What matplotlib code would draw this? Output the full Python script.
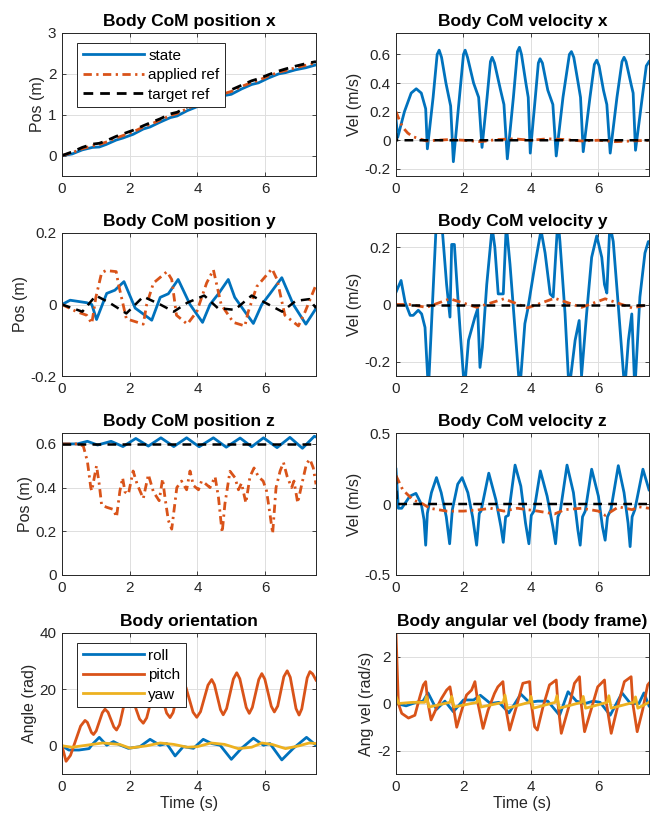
import matplotlib.pyplot as plt

plt.rcParams['font.family'] = ['Liberation Sans', 'DejaVu Sans']

BLUE = '#0072BD'
ORANGE = '#D95319'
YELLOW = '#EDB120'

# --- Body CoM position x ---
t_px = [0, 0.3, 0.6, 0.9, 1.1, 1.3, 1.6, 1.8, 2.1, 2.4, 2.6, 2.9, 3.2, 3.4, 3.7, 4.0,
        4.2, 4.5, 4.8, 5.0, 5.3, 5.6, 5.8, 6.1, 6.4, 6.6, 6.9, 7.2, 7.5]
px_state = [0, 0.04, 0.14, 0.2, 0.21, 0.27, 0.38, 0.43, 0.52, 0.65, 0.7, 0.82, 0.93, 0.97,
            1.1, 1.2, 1.25, 1.38, 1.47, 1.5, 1.63, 1.74, 1.78, 1.9, 2.0, 2.03, 2.1, 2.15, 2.22]
px_applied = [0, 0.07, 0.17, 0.24, 0.27, 0.33, 0.43, 0.49, 0.58, 0.7, 0.76, 0.87, 0.98, 1.03,
              1.15, 1.26, 1.32, 1.44, 1.52, 1.57, 1.69, 1.79, 1.84, 1.95, 2.04, 2.08, 2.15, 2.21, 2.27]
px_target = [0, 0.09, 0.2, 0.28, 0.3, 0.36, 0.47, 0.53, 0.62, 0.73, 0.8, 0.9, 1.02, 1.06,
             1.19, 1.3, 1.36, 1.47, 1.56, 1.61, 1.72, 1.83, 1.88, 1.98, 2.07, 2.12, 2.19, 2.25, 2.3]

# --- Body CoM velocity x ---
t_vx = [0, 0.05, 0.25, 0.45, 0.6, 0.75, 0.88, 0.93,
        1.1, 1.22, 1.28, 1.35, 1.48, 1.62, 1.7,
        1.88, 2.0, 2.05, 2.12, 2.3, 2.45, 2.55,
        2.7, 2.8, 2.85, 2.92, 3.1, 3.2, 3.3,
        3.48, 3.6, 3.66, 3.72, 3.85, 3.92, 3.98,
        4.13, 4.22, 4.27, 4.34, 4.5, 4.65, 4.75,
        4.95, 5.14, 5.2, 5.27, 5.4, 5.47, 5.55,
        5.75, 5.88, 5.95, 6.02, 6.15, 6.25, 6.35,
        6.55, 6.7, 6.76, 6.82, 6.98, 7.03, 7.1,
        7.3, 7.42, 7.5]
vx_state = [0.15, 0.02, 0.2, 0.33, 0.36, 0.33, 0.22, -0.06,
            0.3, 0.6, 0.63, 0.58, 0.4, 0.24, -0.15,
            0.3, 0.6, 0.63, 0.58, 0.4, 0.3, -0.05,
            0.3, 0.55, 0.58, 0.54, 0.35, 0.25, -0.13,
            0.3, 0.62, 0.65, 0.6, 0.4, 0.3, -0.09,
            0.3, 0.54, 0.57, 0.54, 0.35, 0.25, -0.11,
            0.3, 0.6, 0.62, 0.58, 0.4, 0.3, -0.08,
            0.3, 0.53, 0.56, 0.52, 0.35, 0.25, -0.09,
            0.3, 0.55, 0.58, 0.55, 0.38, 0.33, -0.07,
            0.3, 0.52, 0.55]
t_vx_ref = [0, 0.1, 0.2, 0.35, 0.5, 0.7, 0.9, 1.2, 1.6, 2.0, 2.5, 3.0, 3.5, 4.0, 4.5, 5.0,
            5.5, 6.0, 6.5, 7.0, 7.5]
vx_applied = [0.2, 0.14, 0.09, 0.05, 0.025, 0.01, -0.005, 0.0, 0.005, 0.0, -0.01, 0.005,
              0.01, 0.0, 0.01, 0.005, -0.005, 0.0, -0.01, -0.005, 0.0]
t_vx_target = [0, 0.02, 7.5]
vx_target = [0.05, 0, 0]

# --- Body CoM position y ---
t_py = [0, 0.24, 0.73, 0.88, 1.02, 1.32, 1.56, 1.83, 2.16, 2.65, 2.9, 3.14, 3.43, 3.78,
        4.15, 4.37, 4.62, 4.91, 5.1, 5.4, 5.65, 5.9, 6.14, 6.49, 6.83, 7.2, 7.5]
py_state = [0, 0.012, 0.005, 0.0, -0.042, 0.031, 0.04, 0.064, -0.01, -0.044, 0.02, 0.03,
            0.07, 0.0, -0.05, 0.0, 0.03, 0.07, 0.02, -0.02, -0.053, 0.0, 0.03, 0.075, 0.0,
            -0.055, -0.011]
t_py_app = [0, 0.43, 0.73, 0.88, 1.0, 1.17, 1.3, 1.6, 1.66, 1.9, 2.4, 2.5, 2.7, 3.1, 3.24,
            3.38, 3.7, 3.98, 4.27, 4.47, 4.7, 5.06, 5.4, 5.5, 5.75, 6.2, 6.35, 6.58, 6.98,
            7.18, 7.5]
py_applied = [0, -0.02, -0.03, -0.053, 0.02, 0.089, 0.095, 0.092, 0.06, -0.04, -0.055, 0.0,
              0.06, 0.092, 0.07, -0.03, -0.055, -0.02, 0.06, 0.097, 0.0, -0.05, -0.06, -0.02,
              0.05, 0.1, 0.07, -0.03, -0.06, -0.02, 0.055]
t_py_tgt = [0, 0.3, 0.6, 1.0, 1.4, 1.9, 2.4, 2.9, 3.3, 3.7, 4.2, 4.6, 5.1, 5.6, 6.1, 6.5,
            6.9, 7.3, 7.5]
py_target = [0, -0.01, -0.02, 0.025, 0.005, -0.025, 0.022, 0.0, -0.02, 0.005, 0.025, -0.01,
             -0.015, 0.025, 0.0, -0.02, 0.01, 0.015, -0.01]

# --- Body CoM velocity y ---
t_vy = [0, 0.15, 0.27, 0.42, 0.51, 0.66, 0.76, 0.86, 0.96, 1.18, 1.25, 1.38, 1.5, 1.6,
        1.65, 1.73, 1.8, 1.9, 2.03, 2.15, 2.34, 2.42, 2.49, 2.56, 2.69, 2.85, 2.93, 3.03,
        3.18, 3.27, 3.38, 3.53, 3.67, 3.82, 3.9, 4.12, 4.3, 4.42, 4.57, 4.66, 4.8, 4.86,
        5.01, 5.13, 5.31, 5.43, 5.5, 5.65, 5.8, 5.95, 6.1, 6.18, 6.25, 6.34, 6.44, 6.57,
        6.78, 6.89, 6.99, 7.08, 7.23, 7.38, 7.48, 7.5]
vy_state = [0.043, 0.084, 0.008, -0.038, -0.038, -0.02, -0.033, -0.08, -0.3, 0.25, 0.3,
            0.25, 0.07, -0.044, 0.21, 0.21, 0.084, -0.09, -0.3, -0.125, -0.044, -0.015,
            -0.22, -0.15, 0.07, 0.27, 0.2, 0.037, 0.037, 0.28, 0.14, -0.09, -0.3, -0.067,
            -0.02, 0.14, 0.26, 0.18, 0.037, 0.026, 0.3, 0.22, -0.03, -0.3, -0.125, -0.056,
            -0.25, -0.033, 0.165, 0.24, 0.165, 0.07, 0.04, 0.28, 0.22, 0.026, -0.3, -0.125,
            -0.033, -0.3, 0.026, 0.18, 0.22, 0.22]
t_vy_ref = [0, 0.4, 0.9, 1.6, 2.4, 3.2, 3.9, 4.7, 5.5, 6.2, 7.0, 7.5]
vy_applied = [0, 0.0, -0.01, 0.02, -0.01, 0.02, -0.012, 0.022, -0.01, 0.02, -0.012, 0.0]
t_vy_target = [0, 7.5]
vy_target = [0, 0]

# --- Body CoM position z ---
t_pz = [0, 0.45, 0.75, 1.05, 1.45, 1.8, 2.18, 2.55, 2.92, 3.3, 3.68, 4.05, 4.47, 4.85,
        5.26, 5.6, 5.95, 6.35, 6.73, 7.1, 7.45, 7.5]
pz_state = [0.6, 0.6, 0.612, 0.595, 0.612, 0.588, 0.625, 0.59, 0.628, 0.588, 0.628, 0.587,
            0.628, 0.585, 0.627, 0.587, 0.628, 0.583, 0.63, 0.58, 0.635, 0.632]
t_pz_app = [0, 0.5, 0.63, 0.75, 0.85, 0.88, 0.97, 1.02, 1.1, 1.17, 1.32, 1.52, 1.61, 1.71,
            1.79, 1.86, 1.96, 2.1, 2.22, 2.4, 2.55, 2.7, 2.87, 2.97, 3.04, 3.14, 3.24, 3.39,
            3.53, 3.68, 3.78, 3.88, 4.03, 4.12, 4.22, 4.37, 4.52, 4.62, 4.69, 4.73, 4.81,
            4.96, 5.11, 5.21, 5.3, 5.43, 5.55, 5.67, 5.8, 5.94, 6.04, 6.14, 6.22, 6.32, 6.44,
            6.54, 6.65, 6.78, 6.85, 6.96, 7.08, 7.22, 7.32, 7.42, 7.5]
pz_applied = [0.6, 0.6, 0.59, 0.52, 0.4, 0.385, 0.46, 0.5, 0.415, 0.32, 0.31, 0.3, 0.265,
              0.385, 0.445, 0.38, 0.37, 0.476, 0.415, 0.35, 0.46, 0.38, 0.34, 0.44, 0.355,
              0.25, 0.21, 0.4, 0.43, 0.39, 0.476, 0.41, 0.39, 0.43, 0.42, 0.4, 0.45, 0.355,
              0.25, 0.195, 0.325, 0.475, 0.445, 0.39, 0.42, 0.33, 0.45, 0.49, 0.45, 0.43,
              0.385, 0.28, 0.19, 0.4, 0.476, 0.515, 0.45, 0.4, 0.43, 0.33, 0.415, 0.51, 0.53,
              0.49, 0.415]
t_pz_target = [0, 7.5]
pz_target = [0.6, 0.6]

# --- Body CoM velocity z ---
t_vz = [0, 0.07, 0.17, 0.41, 0.59, 0.75, 0.83, 0.88, 0.93, 1.05, 1.2, 1.34, 1.49, 1.59,
        1.67, 1.83, 1.96, 2.13, 2.27, 2.39, 2.47, 2.52, 2.75, 2.96, 3.11, 3.18, 3.25, 3.33,
        3.53, 3.7, 3.84, 3.94, 4.01, 4.09, 4.28, 4.48, 4.65, 4.73, 4.8, 4.87, 5.07, 5.26,
        5.39, 5.46, 5.53, 5.61, 5.8, 6.0, 6.12, 6.2, 6.27, 6.37, 6.59, 6.76, 6.88, 6.94,
        7.0, 7.08, 7.32, 7.5]
vz_state = [0.245, -0.03, -0.03, 0.055, 0.075, 0.0, -0.11, -0.29, -0.065, 0.08, 0.186,
            0.08, -0.09, -0.28, -0.04, 0.14, 0.186, 0.08, -0.09, -0.29, -0.065, -0.05, 0.217,
            0.03, -0.16, -0.27, -0.09, -0.08, 0.274, 0.126, -0.135, -0.28, -0.08, -0.05,
            0.233, 0.055, -0.16, -0.28, -0.09, -0.05, 0.274, 0.08, -0.18, -0.29, -0.09,
            -0.05, 0.245, 0.055, -0.16, -0.255, -0.09, -0.04, 0.27, 0.08, -0.135, -0.3,
            -0.09, -0.04, 0.245, 0.1]
t_vz_ref = [0, 0.2, 0.5, 0.8, 1.0, 1.5, 2.0, 2.5, 2.8, 3.2, 3.6, 4.2, 4.7, 5.0, 5.5, 6.0,
            6.2, 6.6, 7.0, 7.2, 7.5]
vz_applied = [0.2, 0.1, 0.03, 0.0, -0.03, -0.05, -0.05, -0.04, -0.03, -0.05, -0.03, -0.05,
              -0.07, -0.04, -0.03, -0.05, -0.08, -0.02, -0.04, -0.02, -0.03]
t_vz_target = [0, 0.02, 7.5]
vz_target = [0.2, 0, 0]

# --- Body orientation ---
t_pitch = [0, 0.12, 0.25, 0.55, 0.68, 0.75, 0.87, 0.93, 1.01, 1.19, 1.27, 1.36, 1.53, 1.61,
           1.7, 1.87, 1.96, 2.07, 2.29, 2.4, 2.5, 2.7, 2.8, 2.9, 3.09, 3.19, 3.28, 3.46,
           3.55, 3.66, 3.87, 3.98, 4.09, 4.31, 4.42, 4.5, 4.68, 4.76, 4.86, 5.06, 5.16,
           5.25, 5.44, 5.53, 5.62, 5.81, 5.9, 5.99, 6.18, 6.27, 6.37, 6.55, 6.65, 6.74,
           6.91, 7.0, 7.08, 7.24, 7.32, 7.4, 7.5]
pitch = [0, -5.5, -3.4, 7.0, 9.0, 8.3, 4.7, 4.0, 5.3, 11.7, 13.0, 11.9, 6.7, 5.6, 7.5, 16.6,
         18.5, 17.0, 9.5, 8.0, 9.9, 19.1, 21.0, 19.4, 11.6, 10.0, 11.8, 20.7, 22.5, 20.7,
         11.9, 10.1, 12.1, 21.5, 23.5, 21.7, 12.8, 11.0, 13.2, 23.7, 25.9, 23.8, 13.6, 11.5,
         13.6, 23.5, 25.6, 23.6, 14.0, 12.0, 14.1, 24.5, 26.6, 24.3, 13.2, 10.9, 13.1, 24.1,
         26.3, 25.5, 23.3]
t_roll = [0, 0.2, 0.5, 0.8, 0.88, 1.1, 1.32, 1.52, 1.71, 1.96, 2.3, 2.6, 2.89, 3.09, 3.34,
          3.58, 3.88, 4.17, 4.42, 4.67, 5.0, 5.3, 5.65, 5.95, 6.14, 6.49, 6.83, 7.22, 7.5]
roll = [0, -1.5, -1.5, -1.0, 0.3, 3.0, 0.2, 1.5, 0.3, -0.9, -0.3, 2.3, 0.2, 0.8, -3.6, -0.3,
        -0.9, 2.3, 0.8, 0.2, -4.8, -0.9, 2.7, 0.2, 0.8, -5.0, -0.9, 3.0, 0.2]
t_yaw = [0, 0.3, 0.6, 1.2, 1.7, 2.0, 2.5, 2.9, 3.3, 3.7, 4.0, 4.4, 4.8, 5.2, 5.6, 5.9, 6.2,
         6.6, 7.0, 7.3, 7.5]
yaw = [0, -0.5, 0, 1.0, 0.5, -0.8, 0, 1.0, 0.5, -0.5, -0.3, 1.0, 0.5, -1.0, -0.5, 1.0, 0.5,
       -1.0, 0, 1.0, 0.8]

# --- Body angular vel (body frame) ---
t_wy = [0, 0.07, 0.17, 0.37, 0.56, 0.71, 0.81, 0.88, 0.94, 1.04, 1.2, 1.35, 1.5, 1.6, 1.65,
        1.8, 1.95, 2.09, 2.24, 2.34, 2.43, 2.58, 2.73, 2.92, 3.02, 3.17, 3.23, 3.37, 3.57,
        3.76, 3.96, 4.01, 4.11, 4.19, 4.36, 4.55, 4.75, 4.8, 4.9, 5.15, 5.29, 5.44, 5.49,
        5.59, 5.78, 5.98, 6.18, 6.23, 6.38, 6.57, 6.77, 6.97, 7.02, 7.15, 7.31, 7.46, 7.5]
wy = [3.0, 0.0, -0.42, -0.62, -0.5, 0.3, 0.79, 0.93, 0.08, -0.7, -0.2, 0.22, 0.57, 0.71,
      0.29, -1.01, -0.28, 0.36, 0.57, 0.93, 0.0, -1.06, -0.28, 0.43, 0.71, 0.93, 0.0, -1.13,
      -0.13, 0.86, 0.93, 0.0, -0.99, -1.13, -0.13, 0.79, 1.0, 0.0, -1.27, 0.0, 0.86, 1.14,
      0.0, -1.2, -0.28, 0.71, 1.0, 0.08, -1.27, -0.13, 0.93, 1.14, 0.0, -1.2, -0.28, 0.79,
      0.86]
t_wx = [0, 0.3, 0.6, 0.8, 0.95, 1.2, 1.45, 1.7, 2.0, 2.3, 2.5, 2.8, 3.05, 3.35, 3.7, 3.95,
        4.2, 4.5, 4.85, 5.1, 5.35, 5.6, 5.85, 6.05, 6.35, 6.7, 6.95, 7.2, 7.35, 7.5]
wx = [0, -0.1, 0.05, 0.1, 0.45, -0.25, 0.1, -0.35, 0.15, 0.15, 0.35, 0.0, 0.05, -0.4, 0.4,
      0.05, 0.1, 0.1, -0.5, 0.5, 0.1, 0.0, 0.1, 0.05, -0.5, 0.45, 0.0, 0.0, 0.45, -0.1]
t_wz = [0, 0.08, 0.5, 0.85, 0.9, 0.98, 1.6, 1.65, 1.72, 2.4, 2.45, 2.52, 3.18, 3.23, 3.3,
        3.95, 4.0, 4.07, 4.72, 4.77, 4.84, 5.5, 5.55, 5.62, 6.26, 6.31, 6.38, 7.05, 7.1,
        7.17, 7.5]
wz = [0.3, 0.0, 0.05, 0.05, 0.3, -0.15, 0.05, 0.3, -0.15, 0.05, 0.3, -0.15, 0.05, 0.36,
      -0.2, 0.05, 0.3, -0.2, 0.05, 0.33, -0.2, 0.05, 0.3, -0.2, 0.05, 0.33, -0.2, 0.05,
      0.28, -0.2, 0.05]

DASHDOT = (0, (3, 1.6, 0.8, 1.6))
DASHED = (0, (3.5, 2.5))
TICK_FS = 11
LABEL_FS = 11.5
TITLE_FS = 12.5
fig = plt.figure(figsize=(6.52, 8.23), dpi=100)


def make_axes(left_px, top_px, width_px, height_px):
    ax = fig.add_axes([left_px / 652, 1 - (top_px + height_px) / 823,
                       width_px / 652, height_px / 823])
    ax.set_xlim(0, 7.5)
    ax.set_xticks([0, 2, 4, 6])
    ax.grid(True, color='#dedede', linewidth=0.7)
    ax.set_axisbelow(True)
    ax.tick_params(direction='in', length=3, width=0.6, top=True, right=True,
                   labelsize=TICK_FS, colors='#262626', pad=4)
    for s in ax.spines.values():
        s.set_color('#262626')
        s.set_linewidth(0.7)
    return ax


def finish(ax, title, ylabel, ylim, yticks, ytl=None, xlabel=False):
    ax.set_title(title, fontsize=TITLE_FS, fontweight='bold', pad=5)
    ax.set_ylabel(ylabel, fontsize=LABEL_FS, color='#262626', labelpad=2)
    ax.set_ylim(*ylim)
    ax.set_yticks(yticks)
    if ytl is not None:
        ax.set_yticklabels(ytl)
    if xlabel:
        ax.set_xlabel('Time (s)', fontsize=LABEL_FS, color='#262626', labelpad=2)


def add_legend(ax, anchor):
    leg = ax.legend(loc='upper left', fontsize=TICK_FS, handlelength=4.0, framealpha=1,
                    fancybox=False, edgecolor='#262626', bbox_to_anchor=anchor,
                    labelspacing=0.35, handletextpad=0.3, borderpad=0.35)
    leg.get_frame().set_linewidth(0.7)


L, R, W = 62, 396, 254
H = 143
tops = [33, 233, 433, 633]

# row 1
ax = make_axes(L, tops[0], W, H)
ax.plot(t_px, px_state, color=BLUE, lw=2, label='state')
ax.plot(t_px, px_applied, color=ORANGE, lw=2, ls=DASHDOT, label='applied ref')
ax.plot(t_px, px_target, color='black', lw=2, ls=DASHED, label='target ref')
finish(ax, 'Body CoM position x', 'Pos (m)', (-0.5, 3), [0, 1, 2, 3])
add_legend(ax, (0.03, 0.98))

ax = make_axes(R, tops[0], W - 1, H)
ax.plot(t_vx, vx_state, color=BLUE, lw=2)
ax.plot(t_vx_ref, vx_applied, color=ORANGE, lw=2, ls=DASHDOT)
ax.plot(t_vx_target, vx_target, color='black', lw=1.8, ls=DASHED)
finish(ax, 'Body CoM velocity x', 'Vel (m/s)', (-0.25, 0.75),
       [-0.2, 0, 0.2, 0.4, 0.6], ['-0.2', '0', '0.2', '0.4', '0.6'])

# row 2
ax = make_axes(L, tops[1], W, H)
ax.plot(t_py, py_state, color=BLUE, lw=2)
ax.plot(t_py_app, py_applied, color=ORANGE, lw=2, ls=DASHDOT)
ax.plot(t_py_tgt, py_target, color='black', lw=1.8, ls=DASHED)
finish(ax, 'Body CoM position y', 'Pos (m)', (-0.2, 0.2), [-0.2, 0, 0.2],
       ['-0.2', '0', '0.2'])

ax = make_axes(R, tops[1], W - 1, H)
ax.plot(t_vy, vy_state, color=BLUE, lw=2)
ax.plot(t_vy_ref, vy_applied, color=ORANGE, lw=2, ls=DASHDOT)
ax.plot(t_vy_target, vy_target, color='black', lw=1.8, ls=DASHED)
finish(ax, 'Body CoM velocity y', 'Vel (m/s)', (-0.25, 0.25), [-0.2, 0, 0.2],
       ['-0.2', '0', '0.2'])

# row 3
ax = make_axes(L, tops[2], W, H - 1)
ax.plot(t_pz, pz_state, color=BLUE, lw=2)
ax.plot(t_pz_app, pz_applied, color=ORANGE, lw=2, ls=DASHDOT)
ax.plot(t_pz_target, pz_target, color='black', lw=1.8, ls=DASHED)
finish(ax, 'Body CoM position z', 'Pos (m)', (0, 0.65), [0, 0.2, 0.4, 0.6],
       ['0', '0.2', '0.4', '0.6'])

ax = make_axes(R, tops[2], W - 1, H - 1)
ax.plot(t_vz, vz_state, color=BLUE, lw=2)
ax.plot(t_vz_ref, vz_applied, color=ORANGE, lw=2, ls=DASHDOT)
ax.plot(t_vz_target, vz_target, color='black', lw=1.8, ls=DASHED)
finish(ax, 'Body CoM velocity z', 'Vel (m/s)', (-0.5, 0.5), [-0.5, 0, 0.5],
       ['-0.5', '0', '0.5'])

# row 4
ax = make_axes(L, tops[3], W, H - 2)
ax.plot(t_roll, roll, color=BLUE, lw=2, label='roll')
ax.plot(t_pitch, pitch, color=ORANGE, lw=2, label='pitch')
ax.plot(t_yaw, yaw, color=YELLOW, lw=2, label='yaw')
finish(ax, 'Body orientation', 'Angle (rad)', (-10, 40), [0, 20, 40], xlabel=True)
add_legend(ax, (0.03, 0.98))

ax = make_axes(R, tops[3], W - 1, H - 2)
ax.plot(t_wx, wx, color=BLUE, lw=2)
ax.plot(t_wy, wy, color=ORANGE, lw=2)
ax.plot(t_wz, wz, color=YELLOW, lw=2)
finish(ax, 'Body angular vel (body frame)', 'Ang vel (rad/s)', (-3, 3), [-2, 0, 2],
       ['-2', '0', '2'], xlabel=True)

fig.savefig('out.png', dpi=100)
